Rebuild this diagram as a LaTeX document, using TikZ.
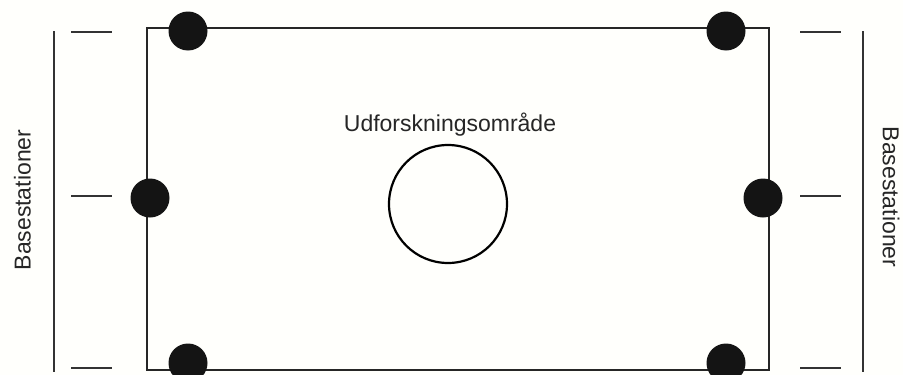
\documentclass[tikz,border=0pt]{standalone}
\usepackage{fontspec}
\setmainfont{Liberation Sans}
\begin{document}
\begin{tikzpicture}[x=1pt,y=-1pt,
  frame/.style={draw=black!85, line width=1.5pt},
  station/.style={circle, fill=black!92, inner sep=0pt, minimum size=39pt},
  tick/.style={draw=black!80, line width=1.8pt},
  bar/.style={draw=black!80, line width=1.6pt},
  lbl/.style={font=\fontsize{23}{27}\selectfont, text=black!85, inner sep=0pt}]
\useasboundingbox (0,0) rectangle (903,375);
\clip (0,0) rectangle (903,375);
\fill[white!98!yellow!60!white] (0,0) rectangle (903,375);
% frame
\coordinate (tl) at (147,28);
\coordinate (br) at (769,370);
\draw[frame] (tl) rectangle (br);
% stations
\node[station] (s1) at (188,31) {};
\node[station] (s2) at (150,198) {};
\node[station] (s3) at (188,363) {};
\node[station] (s4) at (726,31) {};
\node[station] (s5) at (763,198) {};
\node[station] (s6) at (726,363) {};
% left bracket
\coordinate (lt) at (54,31);
\coordinate (lb) at (54,372);
\draw[bar] (lt) -- (lb);
\coordinate (lt1a) at (71,32); \coordinate (lt1b) at (112,32);
\coordinate (lt2a) at (71,196); \coordinate (lt2b) at (112,196);
\coordinate (lt3a) at (71,368); \coordinate (lt3b) at (112,368);
\draw[tick] (lt1a) -- (lt1b);
\draw[tick] (lt2a) -- (lt2b);
\draw[tick] (lt3a) -- (lt3b);
% right bracket
\coordinate (rt) at (863,31);
\coordinate (rb) at (863,372);
\draw[bar] (rt) -- (rb);
\coordinate (rt1a) at (800,32); \coordinate (rt1b) at (841,32);
\coordinate (rt2a) at (800,196); \coordinate (rt2b) at (841,196);
\coordinate (rt3a) at (800,368); \coordinate (rt3b) at (841,368);
\draw[tick] (rt1a) -- (rt1b);
\draw[tick] (rt2a) -- (rt2b);
\draw[tick] (rt3a) -- (rt3b);
% labels
\node[lbl, rotate=90] (bl) at (22.5,200) {Basestationer};
\node[lbl, rotate=-90] (br2) at (891,197) {Basestationer};
% exploration area
\node[circle, draw=black, line width=2.2pt, minimum size=118pt, inner sep=0pt] (area) at (448,204) {};
\node[lbl, anchor=base] (al) at (450,131) {Udforskningsområde};
\end{tikzpicture}
\end{document}
